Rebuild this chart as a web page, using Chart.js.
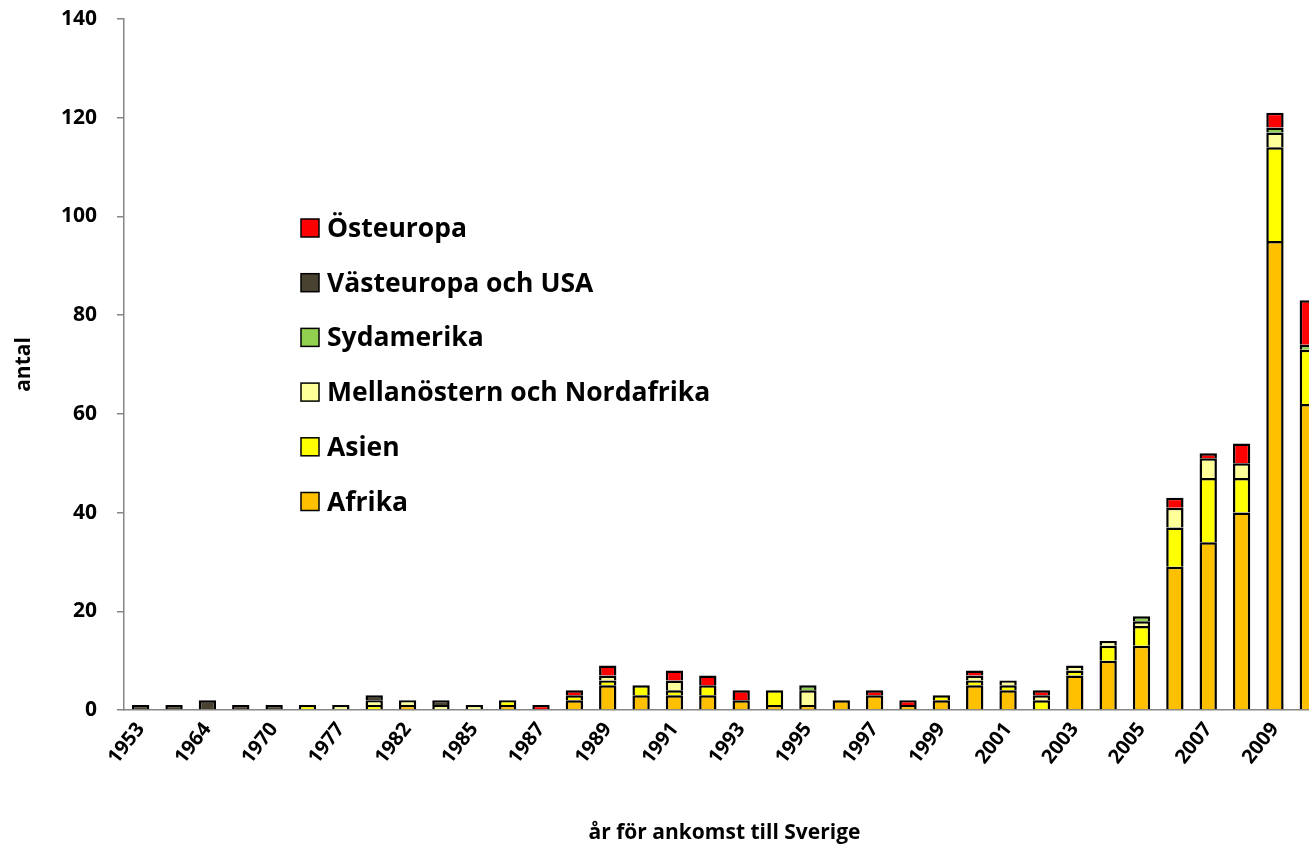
<!DOCTYPE html>
<html lang="sv">
<head>
<meta charset="utf-8">
<title>antal per år för ankomst till Sverige</title>
<script src="https://cdn.jsdelivr.net/npm/chart.js@4.4.1/dist/chart.umd.min.js"></script>
<style>
  html, body { margin: 0; padding: 0; background: #fff; overflow: hidden; }
  #ram { width: 1326px; height: 847px; }
</style>
</head>
<body>
<div id="ram"><canvas id="stapel" width="1326" height="847"></canvas></div>
<script>
// år (kategorier) och vilka av dem som visas på x-axeln
const ar = ['1953', '1961', '1964', '1968', '1970', '1973', '1977', '1980', '1982', '1984', '1985', '1986', '1987',
    '1988', '1989', '1990', '1991', '1992', '1993', '1994', '1995', '1996', '1997', '1998', '1999',
    '2000', '2001', '2002', '2003', '2004', '2005', '2006', '2007', '2008', '2009', '2010'];
const visadeAr = ['1953', '1964', '1970', '1977', '1982', '1985', '1987', '1989', '1991', '1993', '1995',
    '1997', '1999', '2001', '2003', '2005', '2007', '2009'];
const yTicks = [0, 20, 40, 60, 80, 100, 120, 140];

const afrika        = [0, 0, 0, 0, 0, 0, 0, 0, 1, 0, 0, 1, 0, 2, 5, 3, 3, 3, 2, 1, 1, 2, 3, 1, 2, 5, 4, 0, 7, 10, 13, 29, 34, 40, 95, 62];
const asien         = [0, 0, 0, 0, 0, 1, 0, 1, 0, 0, 0, 1, 0, 1, 1, 2, 1, 2, 0, 3, 0, 0, 0, 0, 1, 1, 1, 2, 1, 3, 4, 8, 13, 7, 19, 11];
const mellanostern  = [0, 0, 0, 0, 0, 0, 1, 1, 1, 1, 1, 0, 0, 0, 1, 0, 2, 0, 0, 0, 3, 0, 0, 0, 0, 1, 1, 1, 1, 1, 1, 4, 4, 3, 3, 0];
const sydamerika    = [0, 0, 0, 0, 0, 0, 0, 0, 0, 0, 0, 0, 0, 0, 0, 0, 0, 0, 0, 0, 1, 0, 0, 0, 0, 0, 0, 0, 0, 0, 1, 0, 0, 0, 1, 1];
const vastEuropaUsa = [1, 1, 2, 1, 1, 0, 0, 1, 0, 1, 0, 0, 0, 0, 0, 0, 0, 0, 0, 0, 0, 0, 0, 0, 0, 0, 0, 0, 0, 0, 0, 0, 0, 0, 0, 0];
const osteuropa     = [0, 0, 0, 0, 0, 0, 0, 0, 0, 0, 0, 0, 1, 1, 2, 0, 2, 2, 2, 0, 0, 0, 1, 1, 0, 1, 0, 1, 0, 0, 0, 2, 1, 4, 3, 9];

const ctx = document.getElementById('stapel');
const axelFarg = '#868686';
const typsnitt = '"Open Sans", "DejaVu Sans", sans-serif';

Chart.defaults.font.family = typsnitt;
Chart.defaults.color = '#000';

function serie(namn, varden, farg) {
    return {
        label: namn,
        data: varden.map(v => v === 0 ? null : v),
        backgroundColor: farg,
        borderColor: '#000',
        borderWidth: 2.5,
        barPercentage: 0.52,
        categoryPercentage: 1
    };
}

// legenden ligger inne i diagrammet, översta serien först
const legendInne = {
    id: 'legendInne',
    afterDraw(chart) {
        const c = chart.ctx;
        const x0 = chart.chartArea.left + 177;
        const y0 = chart.chartArea.top + 209;
        c.save();
        c.font = 'bold 26.5px ' + typsnitt;
        c.textBaseline = 'alphabetic';
        chart.data.datasets.slice().reverse().forEach((ds, i) => {
            const y = y0 + i * 54.7;
            c.fillStyle = ds.backgroundColor;
            c.fillRect(x0, y - 9, 18, 18);
            c.strokeStyle = '#000';
            c.lineWidth = 1.5;
            c.strokeRect(x0, y - 9, 18, 18);
            c.fillStyle = '#000';
            c.fillText(ds.label, x0 + 26, y + 9);
        });
        c.restore();
    }
};

new Chart(ctx, {
    type: 'bar',
    data: {
        labels: ar,
        datasets: [
            serie('Afrika', afrika, '#FFC000'),
            serie('Asien', asien, '#FFFF00'),
            serie('Mellanöstern och Nordafrika', mellanostern, '#FFFF99'),
            serie('Sydamerika', sydamerika, '#92D050'),
            serie('Västeuropa och USA', vastEuropaUsa, '#4A4230'),
            serie('Östeuropa', osteuropa, '#FF0000')
        ]
    },
    options: {
        responsive: false,
        animation: false,
        layout: { padding: { top: 19, right: 1, bottom: 0, left: 0 } },
        plugins: {
            legend: { display: false },
            tooltip: { enabled: false }
        },
        scales: {
            x: {
                stacked: true,
                grid: { display: false, drawTicks: false },
                border: { display: true, color: axelFarg, width: 1.5 },
                ticks: {
                    autoSkip: false,
                    minRotation: 52,
                    maxRotation: 52,
                    padding: 8,
                    font: { size: 20, weight: 'bold' },
                    callback: function (v, i) {
                        const etikett = this.getLabelForValue(v);
                        return visadeAr.includes(etikett) ? etikett : '';
                    }
                },
                title: {
                    display: true,
                    text: 'år för ankomst till Sverige',
                    font: { size: 21, weight: 'bold' },
                    padding: { top: 0, bottom: 1 }
                },
                afterFit(scale) {
                    scale.height = 137;
                    scale.paddingLeft = 0;
                    scale.paddingRight = 0;
                }
            },
            y: {
                stacked: true,
                min: yTicks[0],
                max: yTicks[yTicks.length - 1],
                grid: { display: true, drawOnChartArea: false, drawTicks: true, tickLength: 7, color: axelFarg, lineWidth: 1.5 },
                border: { display: true, color: axelFarg, width: 1.5 },
                ticks: {
                    stepSize: yTicks[1] - yTicks[0],
                    padding: 20,
                    font: { size: 21, weight: 'bold' }
                },
                title: {
                    display: true,
                    text: 'antal',
                    font: { size: 21, weight: 'bold' },
                    padding: { top: 11, bottom: 0 }
                },
                afterFit(scale) {
                    scale.width = 124;
                    scale.paddingTop = 0;
                    scale.paddingBottom = 0;
                }
            }
        }
    },
    plugins: [legendInne]
});
</script>
</body>
</html>
